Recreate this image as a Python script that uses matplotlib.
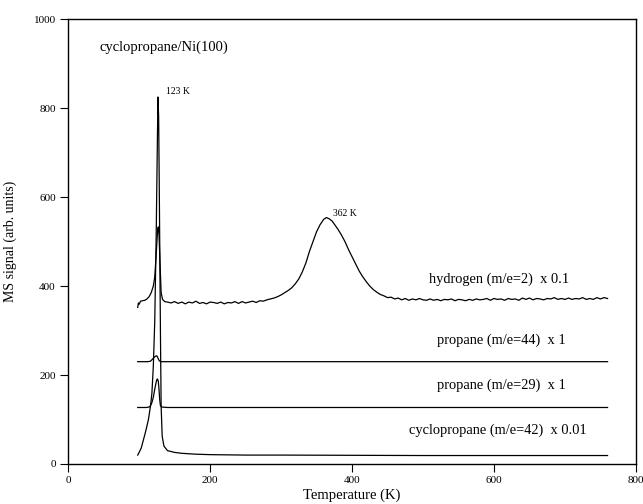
import matplotlib
matplotlib.use("Agg")
import matplotlib.pyplot as plt

plt.rcParams['font.family'] = ['Liberation Serif', 'DejaVu Serif']

# cyclopropane (m/e=42) x 0.01
T_c = [98, 100, 103, 106, 109, 113, 116, 118, 120, 122, 124, 125.5, 126.5, 127.5, 128.5,
       130, 131, 132.5, 135, 140, 150, 160, 180, 200, 250, 300, 400, 500, 600, 700, 760]
S_c = [20, 26, 36, 54, 72, 99, 130, 159, 220, 320, 510, 700, 825, 780, 600,
       300, 130, 62, 40, 30, 26, 24, 22, 21, 20, 20, 19.5, 19, 19, 19, 19]

# propane (m/e=29) x 1
T_p29 = [98, 110, 114, 116, 118, 120, 122, 124, 125, 126, 127, 128, 129, 130, 132, 140, 760]
S_p29 = [127, 127, 128, 131, 138, 150, 168, 184, 190, 191, 186, 168, 145, 131, 128, 127, 127]

# propane (m/e=44) x 1
T_p44 = [98, 112, 116, 119, 122, 124, 125, 126, 128, 130, 140, 760]
S_p44 = [230, 230, 231, 236, 241, 243, 243, 240, 233, 230, 230, 230]

# hydrogen (m/e=2) x 0.1
T_h = [98, 99, 100, 102, 105, 108, 111, 114, 117, 120, 122, 124, 126, 127, 128, 129, 130, 131, 133, 136,
       140, 145, 150, 155, 160, 165, 170, 175, 180, 185, 190, 195, 200, 205, 210, 215, 220, 225, 230,
       235, 240, 245, 250, 255, 260, 265, 270, 275, 280, 285, 290, 295, 300, 305, 310, 315, 320, 325,
       330, 335, 340, 345, 350, 355, 360, 364, 368, 372, 376, 380, 385, 390, 395, 400, 405, 410, 415,
       420, 425, 430, 435, 440, 445, 450, 455, 460, 465, 470, 475, 480, 485, 490, 495, 500, 505, 510,
       515, 520, 525, 530, 535, 540, 545, 550, 555, 560, 565, 570, 575, 580, 585, 590, 595, 600, 605,
       610, 615, 620, 625, 630, 635, 640, 645, 650, 655, 660, 665, 670, 675, 680, 685, 690, 695, 700,
       705, 710, 715, 720, 725, 730, 735, 740, 745, 750, 755, 760]
S_h = [352, 362, 359, 366, 367, 368, 371, 376, 385, 400, 420, 470, 525, 533, 515, 470, 420, 385, 370, 365,
       364, 362, 365, 361, 364, 360, 364, 362, 366, 361, 363, 360, 364, 363, 361, 364, 360, 363, 362,
       365, 361, 365, 362, 364, 366, 363, 367, 366, 369, 371, 373, 376, 380, 385, 390, 396, 405, 416,
       432, 452, 478, 500, 522, 538, 550, 554, 551, 546, 537, 528, 515, 500, 482, 466, 450, 434, 421,
       410, 400, 392, 386, 381, 378, 374, 375, 371, 373, 369, 372, 368, 371, 369, 372, 369, 368, 371,
       368, 370, 367, 370, 369, 371, 367, 370, 369, 367, 370, 368, 371, 369, 370, 372, 368, 372, 370,
       371, 368, 372, 370, 371, 368, 373, 370, 373, 369, 372, 371, 369, 372, 371, 374, 370, 372, 370,
       373, 370, 372, 371, 374, 370, 372, 370, 374, 371, 374, 372]

x_ticks = [0, 200, 400, 600, 800]
y_ticks = [0, 200, 400, 600, 800, 1000]

fig = plt.figure(figsize=(6.43, 5.04), dpi=100)
ax = fig.add_axes([0.106, 0.0794, 0.883, 0.8826])

lw = 0.9
ax.plot(T_c, S_c, color='black', lw=lw)
ax.plot(T_p29, S_p29, color='black', lw=lw)
ax.plot(T_p44, S_p44, color='black', lw=lw)
ax.plot(T_h, S_h, color='black', lw=lw)

ax.set_xlim(0, 800)
ax.set_ylim(0, 1000)
ax.set_xticks(x_ticks)
ax.set_yticks(y_ticks)
ax.tick_params(direction='out', length=6, width=0.8, labelsize=8, pad=3,
               top=False, right=False)
for s in ax.spines.values():
    s.set_linewidth(1.0)

ax.set_xlabel('Temperature (K)', fontsize=10.5, labelpad=2)
ax.set_ylabel('MS signal (arb. units)', fontsize=10, labelpad=12)

ax.text(44, 937, 'cyclopropane/Ni(100)', fontsize=10.5, va='center', ha='left')
ax.text(138, 838, '123 K', fontsize=7, va='center', ha='left')
ax.text(373, 564, '362 K', fontsize=7, va='center', ha='left')
ax.text(508, 416, 'hydrogen (m/e=2)  x 0.1', fontsize=10.4, va='center', ha='left')
ax.text(520, 279, 'propane (m/e=44)  x 1', fontsize=10.4, va='center', ha='left')
ax.text(520, 178, 'propane (m/e=29)  x 1', fontsize=10.4, va='center', ha='left')
ax.text(480, 76, 'cyclopropane (m/e=42)  x 0.01', fontsize=10.4, va='center', ha='left')

fig.savefig('out.png', dpi=100)
